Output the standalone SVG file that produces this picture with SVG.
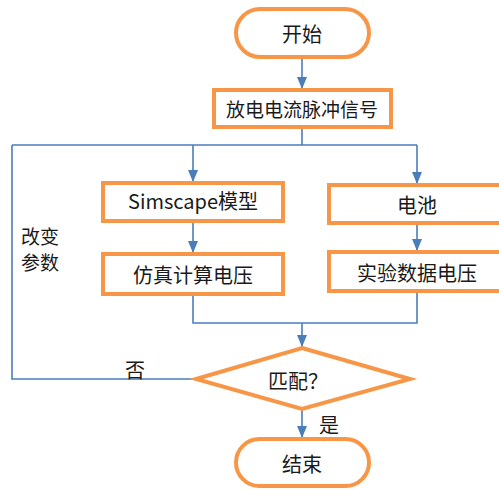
<svg xmlns="http://www.w3.org/2000/svg" width="499" height="491" viewBox="0 0 499 491">
<style>
.n{fill:#fff;stroke:#F79646;stroke-width:4}
.c{fill:none;stroke:#4A7EBB;stroke-width:1.6}
text{font-family:"Noto Sans CJK SC","Microsoft YaHei",sans-serif;font-size:20px;fill:#1a1a1a;text-anchor:middle;dominant-baseline:central}
</style>
<defs>
<marker id="a" markerWidth="12" markerHeight="10" refX="12" refY="5" orient="auto" markerUnits="userSpaceOnUse">
<path d="M0,0L12,5L0,10z" fill="#4A7EBB"/>
</marker>
</defs>
<rect width="499" height="491" fill="#fff"/>
<g id="connectors">
<path class="c" d="M302,58V89" marker-end="url(#a)"/>
<path class="c" d="M302,127V145M12,145H417"/>
<path class="c" d="M193,145V182" marker-end="url(#a)"/>
<path class="c" d="M417,145V184" marker-end="url(#a)"/>
<path class="c" d="M193,221V253" marker-end="url(#a)"/>
<path class="c" d="M417,223V251" marker-end="url(#a)"/>
<path class="c" d="M193,294V323H417V291"/>
<path class="c" d="M302,323V347" marker-end="url(#a)"/>
<path class="c" d="M195,379H12V145"/>
<path class="c" d="M302,409V438" marker-end="url(#a)"/>
</g>
<g id="start"><rect class="n" x="236" y="9" width="133" height="48" rx="24"/><text x="302" y="33">开始</text></g>
<g id="pulse"><rect class="n" x="214" y="90" width="177" height="37"/><text x="302" y="108" style="font-size:19px">放电电流脉冲信号</text></g>
<g id="simscape"><rect class="n" x="103" y="183" width="180" height="38"/><text x="193" y="200">Simscape模型</text></g>
<g id="battery"><rect class="n" x="329" y="185" width="180" height="38"/><text x="417" y="204">电池</text></g>
<g id="sim"><rect class="n" x="103" y="254" width="180" height="40"/><text x="193" y="274">仿真计算电压</text></g>
<g id="exp"><rect class="n" x="329" y="252" width="180" height="39"/><text x="417" y="272">实验数据电压</text></g>
<g id="match"><polygon class="n" points="302,348 410,379 302,409 196,379"/><text x="298" y="380">匹配？</text></g>
<g id="end"><rect class="n" x="236" y="439" width="133" height="47" rx="23.5"/><text x="302" y="463">结束</text></g>
<g id="labels">
<text x="40" y="235" style="font-size:19px">改变</text>
<text x="40" y="261" style="font-size:19px">参数</text>
<text x="135" y="369">否</text>
<text x="329" y="424">是</text>
</g>
</svg>
